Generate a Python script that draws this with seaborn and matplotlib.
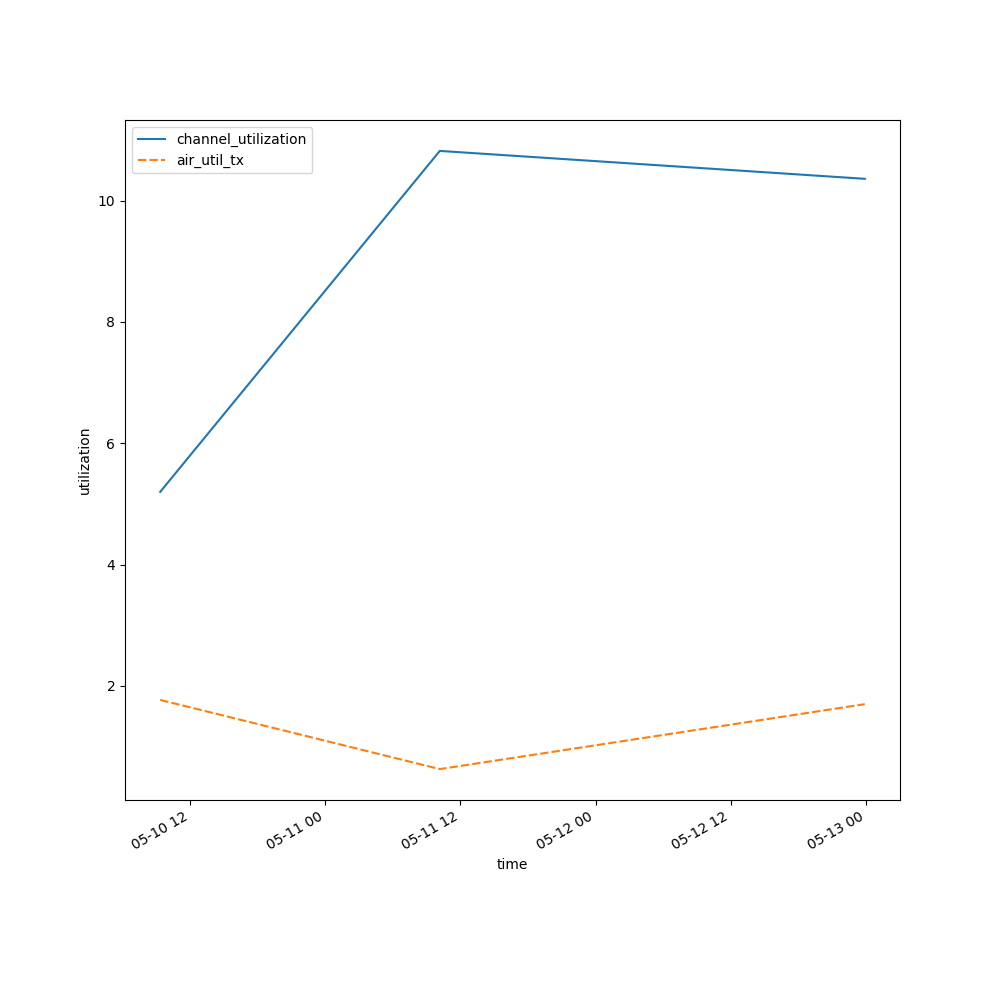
import matplotlib
matplotlib.use("Agg")
import matplotlib.pyplot as plt
import seaborn as sns
import pandas as pd

times = ["2024-05-10 09:20", "2024-05-11 10:10", "2024-05-12 23:55"]
channel_utilization = [5.20, 10.82, 10.36]
air_util_tx = [1.77, 0.63, 1.70]

df = pd.DataFrame(
    {"channel_utilization": channel_utilization, "air_util_tx": air_util_tx},
    index=pd.to_datetime(times),
)
df.index.name = "time"

fig, ax = plt.subplots(figsize=(10, 10), dpi=100)
sns.lineplot(data=df, ax=ax)
ax.set_ylabel("utilization")
ax.set_xlabel("time")
fig.autofmt_xdate()
fig.savefig("out.png")
